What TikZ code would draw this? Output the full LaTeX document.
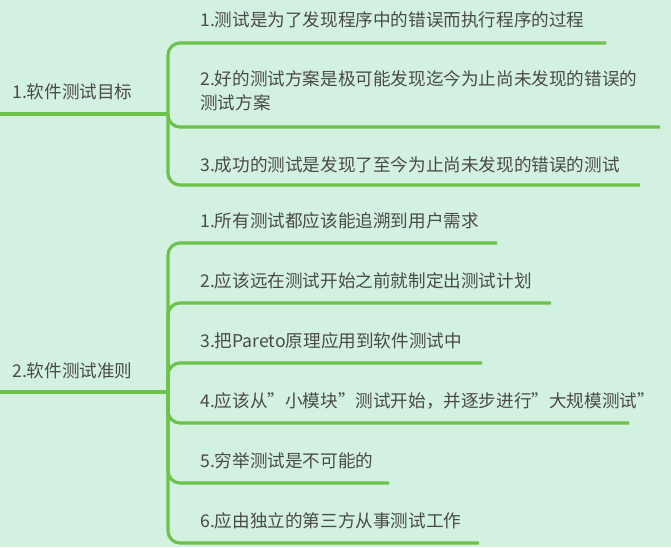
\documentclass[tikz,border=0pt]{standalone}
\usepackage{fontspec}
\setmainfont{Noto Sans CJK SC}
\definecolor{bg}{HTML}{D3F1E1}
\definecolor{ln}{HTML}{6CC24A}
\definecolor{tx}{HTML}{4A4A4A}
\begin{document}
\begin{tikzpicture}[x=0.75pt,y=-0.75pt,
  lbl/.style={anchor=west,inner sep=0pt,text=tx,font=\fontsize{13.2pt}{18pt}\selectfont,align=left},
  br/.style={draw=ln,line width=2.4pt,rounded corners=9pt}]
\fill[bg] (0,0) rectangle (671,547);
\useasboundingbox (0,0) rectangle (671,547);
% group 1
\node[lbl] (r1) at (12,92) {1.软件测试目标};
\coordinate (r1s) at (0,114);
\coordinate (j1) at (168,114);
\draw[br] (r1s) -- (j1);
\node[lbl] (a1) at (200,20) {1.测试是为了发现程序中的错误而执行程序的过程};
\node[lbl] (a2) at (200,91) {2.好的测试方案是极可能发现迄今为止尚未发现的错误的\\测试方案};
\node[lbl] (a3) at (200,165) {3.成功的测试是发现了至今为止尚未发现的错误的测试};
\coordinate (e1) at (606,43);
\coordinate (e2) at (660,127);
\coordinate (e3) at (640,185);
\draw[br] (j1) |- (e1);
\draw[br] (j1) |- (e2);
\draw[br] (j1) |- (e3);
% group 2
\node[lbl] (r2) at (12,371) {2.软件测试准则};
\coordinate (r2s) at (0,392);
\coordinate (j2) at (168,392);
\draw[br] (r2s) -- (j2);
\node[lbl] (b1) at (200,221) {1.所有测试都应该能追溯到用户需求};
\node[lbl] (b2) at (200,281) {2.应该远在测试开始之前就制定出测试计划};
\node[lbl] (b3) at (200,341) {3.把Pareto原理应用到软件测试中};
\node[lbl] (b4) at (200,401) {4.应该从”小模块”测试开始，并逐步进行”大规模测试”};
\node[lbl] (b5) at (200,461) {5.穷举测试是不可能的};
\node[lbl] (b6) at (200,521) {6.应由独立的第三方从事测试工作};
\coordinate (f1) at (497,243);
\coordinate (f2) at (551,303);
\coordinate (f3) at (482,363);
\coordinate (f4) at (629,423);
\coordinate (f5) at (389,483);
\coordinate (f6) at (479,543);
\foreach \f in {f1,f2,f3,f4,f5,f6} \draw[br] (j2) |- (\f);
\end{tikzpicture}
\end{document}
